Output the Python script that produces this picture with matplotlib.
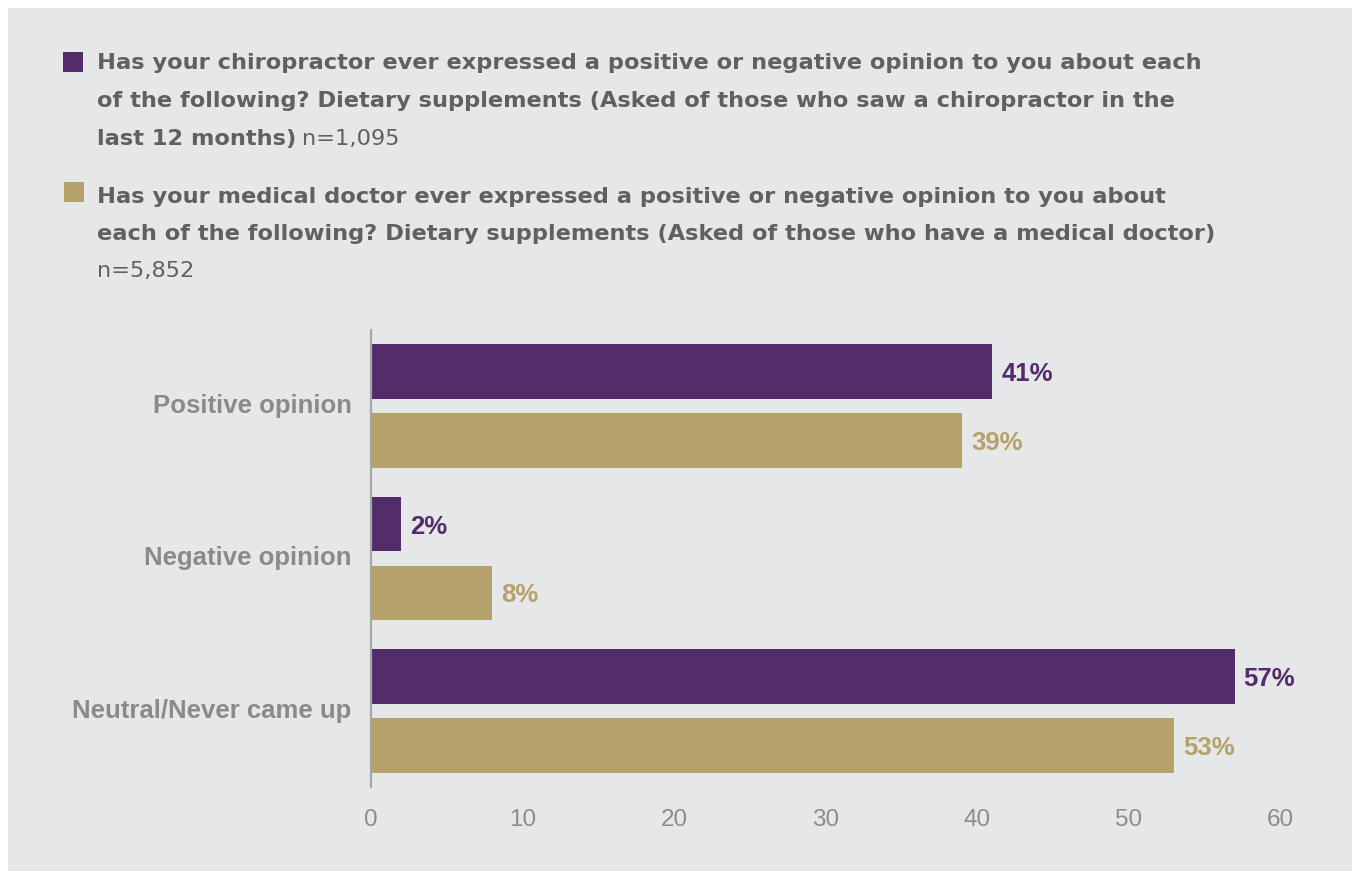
import matplotlib
matplotlib.use("Agg")
import matplotlib.pyplot as plt
from matplotlib.patches import Rectangle
from matplotlib.transforms import ScaledTranslation

plt.rcParams['font.family'] = ['Liberation Sans', 'DejaVu Sans']

# Data
categories = ["Positive opinion", "Negative opinion", "Neutral/Never came up"]
chiropractor = [41, 2, 57]
medical_doctor = [39, 8, 53]
x_ticks = [0, 10, 20, 30, 40, 50, 60]

legend1_bold = [
    "Has your chiropractor ever expressed a positive or negative opinion to you about each",
    "of the following? Dietary supplements (Asked of those who saw a chiropractor in the",
    "last 12 months)",
]
legend1_n = "n=1,095"
legend2_bold = [
    "Has your medical doctor ever expressed a positive or negative opinion to you about",
    "each of the following? Dietary supplements (Asked of those who have a medical doctor)",
]
legend2_n = "n=5,852"

PURPLE = "#532c6a"
GOLD = "#b5a16a"
BG = "#e6e7e8"
LABEL_GRAY = "#8a8a8a"
TICK_GRAY = "#8c8c8c"
TEXT_DARK = "#5f6062"

W, H = 1353, 871
fig = plt.figure(figsize=(W / 100, H / 100), dpi=100, facecolor="white")

# Gray panel behind everything
fig.patches.append(Rectangle((8 / W, 0), (1352 - 8) / W, (H - 8) / H,
                             transform=fig.transFigure, facecolor=BG,
                             edgecolor="none", zorder=-10))

ax = fig.add_axes([371 / W, 84 / H, (1280 - 371) / W, (787 - 330) / H])
ax.set_facecolor("none")
ax.set_zorder(1)

bar_h = 0.36
offset = 0.226
ys = list(range(len(categories)))
ax.barh([y - offset for y in ys], chiropractor, height=bar_h, color=PURPLE, zorder=2)
ax.barh([y + offset for y in ys], medical_doctor, height=bar_h, color=GOLD, zorder=2)

for y, v in zip(ys, chiropractor):
    ax.annotate(f"{v}%", (v, y - offset), xytext=(6.5, -1.8), textcoords="offset points",
                va="center", ha="left", fontsize=18.5, fontweight="bold", color=PURPLE)
for y, v in zip(ys, medical_doctor):
    ax.annotate(f"{v}%", (v, y + offset), xytext=(6.5, -1.8), textcoords="offset points",
                va="center", ha="left", fontsize=18.5, fontweight="bold", color=GOLD)

ax.set_xlim(0, 60)
ax.set_ylim(2.5, -0.5)
ax.set_xticks(x_ticks)
ax.set_xticklabels([str(t) for t in x_ticks], fontsize=17.5, color=TICK_GRAY)
ax.set_yticks(ys)
ax.set_yticklabels(categories, fontsize=18.5, fontweight="bold", color=LABEL_GRAY)
ax.tick_params(axis="both", length=0)
ax.tick_params(axis="x", pad=16)
ax.tick_params(axis="y", pad=14)
lift = ScaledTranslation(0, 2 / 72, fig.dpi_scale_trans)
for lbl in ax.get_yticklabels():
    lbl.set_transform(lbl.get_transform() + lift)
for s in ["top", "right", "bottom"]:
    ax.spines[s].set_visible(False)
ax.spines["left"].set_color("#a6a6a6")
ax.spines["left"].set_linewidth(1.6)

# Legend block (square marker + wrapped question text)
renderer = fig.canvas.get_renderer()
LEG_FONT = ["DejaVu Sans"]
LEG_FS = 16.2


def legend_block(x_sq, y_sq, color, x_text, baselines, bold_lines, n_text, n_own_line):
    fig.patches.append(Rectangle((x_sq / W, 1 - (y_sq + 20) / H), 20 / W, 20 / H,
                                 transform=fig.transFigure, facecolor=color,
                                 edgecolor="none"))
    last = None
    for line, yb in zip(bold_lines, baselines):
        last = fig.text(x_text / W, 1 - yb / H, line, fontsize=LEG_FS, fontweight="bold",
                        family=LEG_FONT, color=TEXT_DARK, va="baseline", ha="left")
    if n_own_line:
        fig.text(x_text / W, 1 - baselines[len(bold_lines)] / H, n_text, fontsize=LEG_FS,
                 family=LEG_FONT, color=TEXT_DARK, va="baseline", ha="left")
    else:
        bb = last.get_window_extent(renderer=renderer)
        fig.text((bb.x1 + 6) / W, 1 - baselines[len(bold_lines) - 1] / H, n_text,
                 fontsize=LEG_FS, family=LEG_FONT, color=TEXT_DARK,
                 va="baseline", ha="left")


legend_block(63, 52, PURPLE, 97, [69, 107, 145], legend1_bold, legend1_n, False)
legend_block(64, 182, GOLD, 97, [203, 240, 277], legend2_bold, legend2_n, True)

fig.savefig("out.png", dpi=100, facecolor="white")
